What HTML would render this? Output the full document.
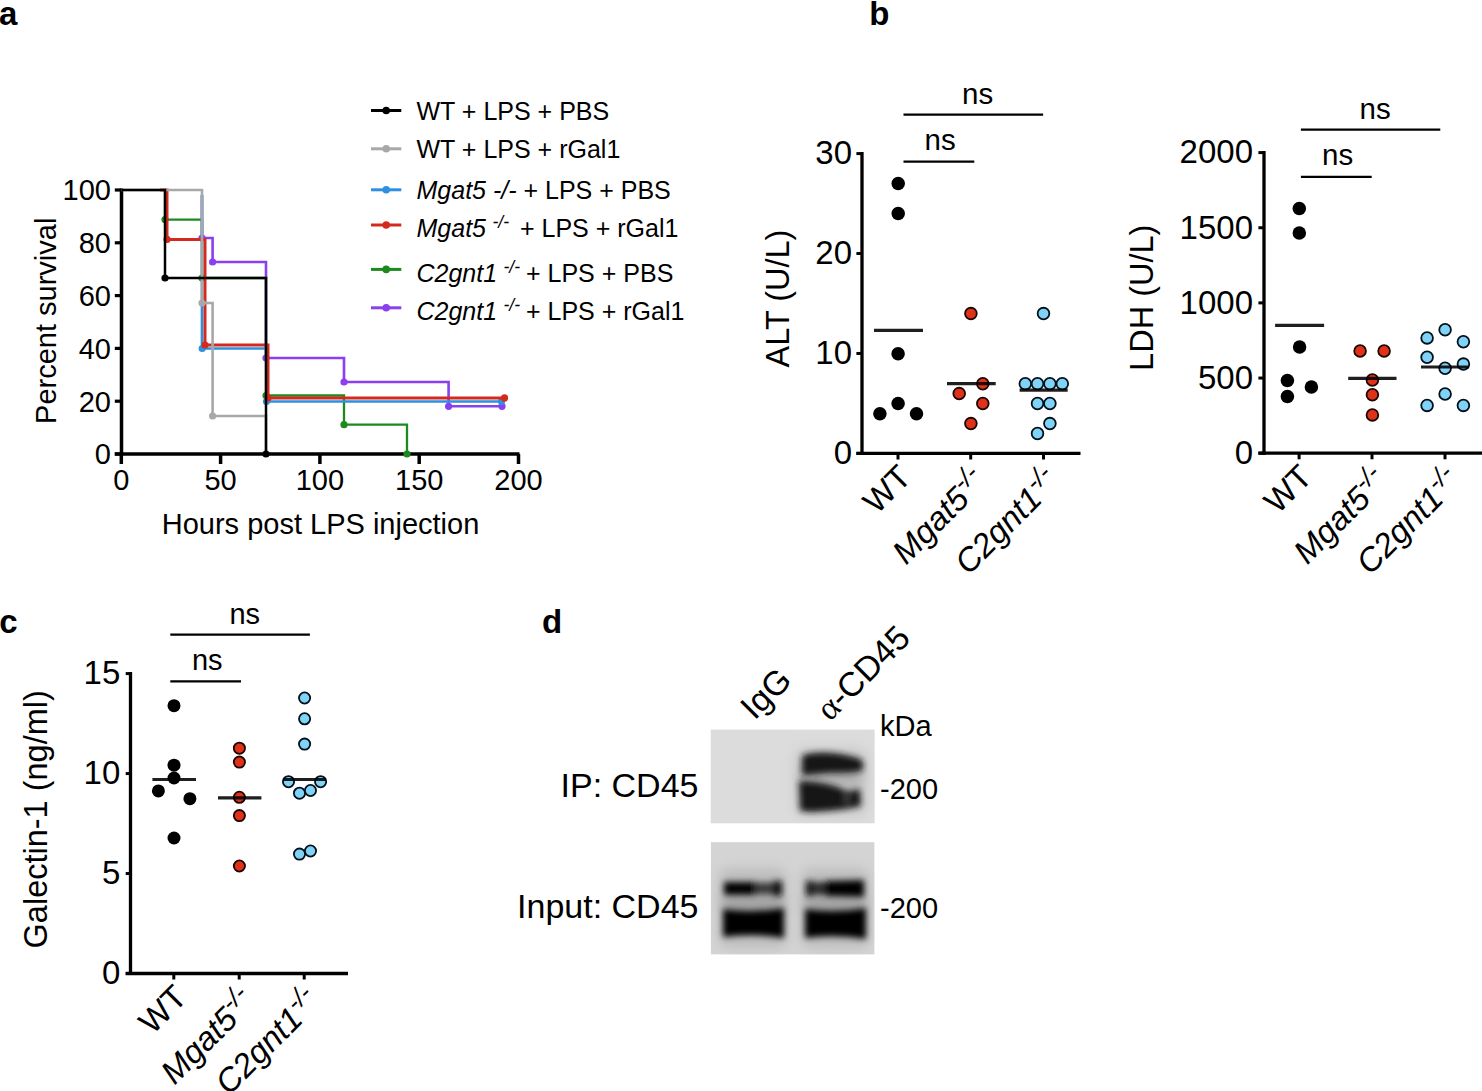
<!DOCTYPE html>
<html><head><meta charset="utf-8"><style>
html,body{margin:0;padding:0;background:#fff;}
body{width:1482px;height:1091px;overflow:hidden;}
svg{display:block;}
text{font-family:"Liberation Sans",sans-serif;fill:#000;}
</style></head><body>
<svg width="1482" height="1091" viewBox="0 0 1482 1091">
<rect width="1482" height="1091" fill="#fff"/>
<text x="-1" y="24.5" font-size="33" text-anchor="start" font-weight="bold">a</text>
<text x="869.3" y="24.5" font-size="33" text-anchor="start" font-weight="bold">b</text>
<text x="-0.8" y="633.4" font-size="33" text-anchor="start" font-weight="bold">c</text>
<text x="542" y="633" font-size="33" text-anchor="start" font-weight="bold">d</text>
<line x1="121.5" y1="188.5" x2="121.5" y2="455.8" stroke="#000" stroke-width="3.5" stroke-linecap="butt"/>
<line x1="114.8" y1="190.0" x2="121.5" y2="190.0" stroke="#000" stroke-width="3.2" stroke-linecap="butt"/>
<line x1="114.8" y1="242.8" x2="121.5" y2="242.8" stroke="#000" stroke-width="3.2" stroke-linecap="butt"/>
<line x1="114.8" y1="295.6" x2="121.5" y2="295.6" stroke="#000" stroke-width="3.2" stroke-linecap="butt"/>
<line x1="114.8" y1="348.4" x2="121.5" y2="348.4" stroke="#000" stroke-width="3.2" stroke-linecap="butt"/>
<line x1="114.8" y1="401.2" x2="121.5" y2="401.2" stroke="#000" stroke-width="3.2" stroke-linecap="butt"/>
<line x1="114.8" y1="454.0" x2="121.5" y2="454.0" stroke="#000" stroke-width="3.2" stroke-linecap="butt"/>
<line x1="114.8" y1="454" x2="519.5" y2="454" stroke="#000" stroke-width="3.6" stroke-linecap="butt"/>
<line x1="121.3" y1="454" x2="121.3" y2="464" stroke="#000" stroke-width="3.5" stroke-linecap="butt"/>
<line x1="220.6" y1="454" x2="220.6" y2="464" stroke="#000" stroke-width="3.5" stroke-linecap="butt"/>
<line x1="319.9" y1="454" x2="319.9" y2="464" stroke="#000" stroke-width="3.5" stroke-linecap="butt"/>
<line x1="419.2" y1="454" x2="419.2" y2="464" stroke="#000" stroke-width="3.5" stroke-linecap="butt"/>
<line x1="518.5" y1="454" x2="518.5" y2="464" stroke="#000" stroke-width="3.5" stroke-linecap="butt"/>
<path d="M202,195 L202,238 L212.6,238 L212.6,262 L266,262 L266,358 L344,358 L344,382 L448.6,382 L448.6,406.3 L502,406.3" fill="none" stroke="#8b3ff0" stroke-width="2.6" stroke-linejoin="miter"/>
<circle cx="202" cy="238" r="3.6" fill="#8b3ff0"/>
<circle cx="212.6" cy="262" r="3.6" fill="#8b3ff0"/>
<circle cx="266" cy="358" r="3.6" fill="#8b3ff0"/>
<circle cx="344" cy="382" r="3.6" fill="#8b3ff0"/>
<circle cx="448.6" cy="406.3" r="3.6" fill="#8b3ff0"/>
<circle cx="502" cy="406.3" r="3.6" fill="#8b3ff0"/>
<path d="M165,190 L165,219.6 L202,219.6 L202,278 L266,278 L266,395.5 L344,395.5 L344,424.7 L407,424.7 L407,454" fill="none" stroke="#1c8a1c" stroke-width="2.3" stroke-linejoin="miter"/>
<circle cx="165" cy="219.6" r="3.6" fill="#1c8a1c"/>
<circle cx="202" cy="278" r="3.6" fill="#1c8a1c"/>
<circle cx="266" cy="395.5" r="3.6" fill="#1c8a1c"/>
<circle cx="344" cy="424.7" r="3.6" fill="#1c8a1c"/>
<circle cx="407" cy="454" r="3.6" fill="#1c8a1c"/>
<path d="M202,195 L202,348.5 L267,348.5 L267,401.5 L501.5,401.5" fill="none" stroke="#2f90e0" stroke-width="2.7" stroke-linejoin="miter"/>
<circle cx="202.2" cy="348.5" r="3.6" fill="#2f90e0"/>
<circle cx="266.5" cy="401.5" r="3.6" fill="#2f90e0"/>
<circle cx="501.5" cy="401.5" r="3.6" fill="#2f90e0"/>
<path d="M160,190 L167,190 L167,239.4 L205,239.4 L205,345 L268,345 L268,397.9 L504.5,397.9" fill="none" stroke="#d42a1e" stroke-width="3.0" stroke-linejoin="miter"/>
<circle cx="167" cy="239.4" r="3.6" fill="#d42a1e"/>
<circle cx="205" cy="345" r="3.6" fill="#d42a1e"/>
<circle cx="268" cy="397.9" r="3.6" fill="#d42a1e"/>
<circle cx="504.5" cy="397.9" r="3.6" fill="#d42a1e"/>
<path d="M121.5,190 L202,190 L202,303 L212.6,303 L212.6,416 L266,416 L266,454" fill="none" stroke="#a8a8a8" stroke-width="2.6" stroke-linejoin="miter"/>
<circle cx="202" cy="303" r="3.6" fill="#a8a8a8"/>
<circle cx="212.6" cy="416" r="3.6" fill="#a8a8a8"/>
<path d="M121.5,190 L165,190 L165,278 L266,278 L266,454" fill="none" stroke="#000" stroke-width="2.5" stroke-linejoin="miter"/>
<circle cx="165" cy="278" r="3.6" fill="#000"/>
<circle cx="266" cy="454" r="3.6" fill="#000"/>
<text x="111" y="200.3" font-size="29" text-anchor="end" >100</text>
<text x="111" y="253.10000000000002" font-size="29" text-anchor="end" >80</text>
<text x="111" y="305.90000000000003" font-size="29" text-anchor="end" >60</text>
<text x="111" y="358.7" font-size="29" text-anchor="end" >40</text>
<text x="111" y="411.5" font-size="29" text-anchor="end" >20</text>
<text x="111" y="464.3" font-size="29" text-anchor="end" >0</text>
<text x="121.3" y="490" font-size="29" text-anchor="middle" >0</text>
<text x="220.6" y="490" font-size="29" text-anchor="middle" >50</text>
<text x="319.9" y="490" font-size="29" text-anchor="middle" >100</text>
<text x="419.2" y="490" font-size="29" text-anchor="middle" >150</text>
<text x="518.5" y="490" font-size="29" text-anchor="middle" >200</text>
<text x="320.5" y="533.5" font-size="29" text-anchor="middle" >Hours post LPS injection</text>
<text transform="translate(55.6,320.8) rotate(-90)" font-size="29" text-anchor="middle">Percent survival</text>
<line x1="371" y1="110.5" x2="401.3" y2="110.5" stroke="#000" stroke-width="3" stroke-linecap="butt"/>
<circle cx="386.2" cy="110.5" r="3.8" fill="#000"/>
<line x1="371" y1="148.8" x2="401.3" y2="148.8" stroke="#a8a8a8" stroke-width="3" stroke-linecap="butt"/>
<circle cx="386.2" cy="148.8" r="3.8" fill="#a8a8a8"/>
<line x1="371" y1="189.8" x2="401.3" y2="189.8" stroke="#2f90e0" stroke-width="3" stroke-linecap="butt"/>
<circle cx="386.2" cy="189.8" r="3.8" fill="#2f90e0"/>
<line x1="371" y1="225" x2="401.3" y2="225" stroke="#d42a1e" stroke-width="3" stroke-linecap="butt"/>
<circle cx="386.2" cy="225" r="3.8" fill="#d42a1e"/>
<line x1="371" y1="269.4" x2="401.3" y2="269.4" stroke="#1c8a1c" stroke-width="3" stroke-linecap="butt"/>
<circle cx="386.2" cy="269.4" r="3.8" fill="#1c8a1c"/>
<line x1="371" y1="307.8" x2="401.3" y2="307.8" stroke="#8b3ff0" stroke-width="3" stroke-linecap="butt"/>
<circle cx="386.2" cy="307.8" r="3.8" fill="#8b3ff0"/>
<text x="416.5" y="119.7" font-size="25">WT + LPS + PBS</text>
<text x="416.5" y="158.2" font-size="25">WT + LPS + rGal1</text>
<text x="416.5" y="199.3" font-size="25"><tspan font-style="italic">Mgat5 -/-</tspan> + LPS + PBS</text>
<text x="416.5" y="237.4" font-size="25"><tspan font-style="italic">Mgat5</tspan></text>
<text x="492.5" y="228.4" font-size="17.5" font-style="italic">-/-</text>
<text x="520" y="237.4" font-size="25">+ LPS + rGal1</text>
<text x="416.5" y="282.2" font-size="25"><tspan font-style="italic">C2gnt1</tspan></text>
<text x="503.5" y="273.2" font-size="17.5" font-style="italic">-/-</text>
<text x="526" y="282.2" font-size="25">+ LPS + PBS</text>
<text x="416.5" y="320.3" font-size="25"><tspan font-style="italic">C2gnt1</tspan></text>
<text x="503.5" y="311.3" font-size="17.5" font-style="italic">-/-</text>
<text x="526" y="320.3" font-size="25">+ LPS + rGal1</text>
<line x1="862" y1="152" x2="862" y2="455" stroke="#000" stroke-width="3.3" stroke-linecap="butt"/>
<line x1="856.4" y1="153.6" x2="862" y2="153.6" stroke="#000" stroke-width="3" stroke-linecap="butt"/>
<text x="852" y="164.4" font-size="33" text-anchor="end" >30</text>
<line x1="856.4" y1="253.53" x2="862" y2="253.53" stroke="#000" stroke-width="3" stroke-linecap="butt"/>
<text x="852" y="264.33" font-size="33" text-anchor="end" >20</text>
<line x1="856.4" y1="353.46000000000004" x2="862" y2="353.46000000000004" stroke="#000" stroke-width="3" stroke-linecap="butt"/>
<text x="852" y="364.26000000000005" font-size="33" text-anchor="end" >10</text>
<line x1="856.4" y1="453.39" x2="862" y2="453.39" stroke="#000" stroke-width="3" stroke-linecap="butt"/>
<text x="852" y="464.19" font-size="33" text-anchor="end" >0</text>
<line x1="856.4" y1="453.4" x2="1080.5" y2="453.4" stroke="#000" stroke-width="3.3" stroke-linecap="butt"/>
<line x1="898" y1="453.4" x2="898" y2="459.5" stroke="#000" stroke-width="3" stroke-linecap="butt"/>
<line x1="970.7" y1="453.4" x2="970.7" y2="459.5" stroke="#000" stroke-width="3" stroke-linecap="butt"/>
<line x1="1043.5" y1="453.4" x2="1043.5" y2="459.5" stroke="#000" stroke-width="3" stroke-linecap="butt"/>
<text transform="translate(788.6,298.5) rotate(-90)" font-size="32.5" text-anchor="middle">ALT (U/L)</text>
<circle cx="898.2" cy="183.6" r="6.75" fill="#000"/>
<circle cx="898.2" cy="213.6" r="6.75" fill="#000"/>
<circle cx="898.1" cy="353.7" r="6.75" fill="#000"/>
<circle cx="898.1" cy="403.6" r="6.75" fill="#000"/>
<circle cx="879.9" cy="413.7" r="6.75" fill="#000"/>
<circle cx="916.5" cy="413.7" r="6.75" fill="#000"/>
<circle cx="970.9" cy="313.6" r="5.85" fill="#e0321a" stroke="#1a0500" stroke-width="1.8"/>
<circle cx="982.8" cy="383.7" r="5.85" fill="#e0321a" stroke="#1a0500" stroke-width="1.8"/>
<circle cx="959.2" cy="393.6" r="5.85" fill="#e0321a" stroke="#1a0500" stroke-width="1.8"/>
<circle cx="982.8" cy="403.5" r="5.85" fill="#e0321a" stroke="#1a0500" stroke-width="1.8"/>
<circle cx="970.9" cy="423.6" r="5.85" fill="#e0321a" stroke="#1a0500" stroke-width="1.8"/>
<circle cx="1043.5" cy="313.6" r="5.85" fill="#80d2f6" stroke="#001018" stroke-width="1.8"/>
<circle cx="1025.3" cy="383.7" r="5.85" fill="#80d2f6" stroke="#001018" stroke-width="1.8"/>
<circle cx="1037.5" cy="383.7" r="5.85" fill="#80d2f6" stroke="#001018" stroke-width="1.8"/>
<circle cx="1049.9" cy="383.7" r="5.85" fill="#80d2f6" stroke="#001018" stroke-width="1.8"/>
<circle cx="1062.3" cy="383.7" r="5.85" fill="#80d2f6" stroke="#001018" stroke-width="1.8"/>
<circle cx="1037.5" cy="403.5" r="5.85" fill="#80d2f6" stroke="#001018" stroke-width="1.8"/>
<circle cx="1049.9" cy="403.5" r="5.85" fill="#80d2f6" stroke="#001018" stroke-width="1.8"/>
<circle cx="1049.9" cy="423.6" r="5.85" fill="#80d2f6" stroke="#001018" stroke-width="1.8"/>
<circle cx="1037.5" cy="433.5" r="5.85" fill="#80d2f6" stroke="#001018" stroke-width="1.8"/>
<line x1="874" y1="330.4" x2="923" y2="330.4" stroke="#000" stroke-width="3.2" stroke-opacity="0.88"/>
<line x1="947" y1="383.7" x2="995.7" y2="383.7" stroke="#000" stroke-width="3.2" stroke-opacity="0.88"/>
<line x1="1019.6" y1="390.1" x2="1067.7" y2="390.1" stroke="#000" stroke-width="3.2" stroke-opacity="0.88"/>
<line x1="903.5" y1="114.7" x2="1043.1" y2="114.7" stroke="#000" stroke-width="2.2" stroke-linecap="butt"/>
<line x1="903.5" y1="161.7" x2="974.3" y2="161.7" stroke="#000" stroke-width="2.2" stroke-linecap="butt"/>
<text x="977.7" y="104.2" font-size="29.5" text-anchor="middle" >ns</text>
<text x="940.1" y="150.3" font-size="29.5" text-anchor="middle" >ns</text>
<text transform="translate(913,479.0) rotate(-45)" font-size="33" text-anchor="end">WT</text>
<text transform="translate(988.3000000000001,483.4) rotate(-45)" font-size="33" text-anchor="end" font-style="italic">Mgat5<tspan font-size="26.1" dy="-12">-/-</tspan></text>
<text transform="translate(1061.1,483.4) rotate(-45)" font-size="33" text-anchor="end" font-style="italic">C2gnt1<tspan font-size="26.1" dy="-12">-/-</tspan></text>
<line x1="1264" y1="151" x2="1264" y2="455" stroke="#000" stroke-width="3.3" stroke-linecap="butt"/>
<line x1="1258.4" y1="152.6" x2="1264" y2="152.6" stroke="#000" stroke-width="3" stroke-linecap="butt"/>
<text x="1253" y="163.4" font-size="33" text-anchor="end" >2000</text>
<line x1="1258.4" y1="227.75" x2="1264" y2="227.75" stroke="#000" stroke-width="3" stroke-linecap="butt"/>
<text x="1253" y="238.55" font-size="33" text-anchor="end" >1500</text>
<line x1="1258.4" y1="302.9" x2="1264" y2="302.9" stroke="#000" stroke-width="3" stroke-linecap="butt"/>
<text x="1253" y="313.7" font-size="33" text-anchor="end" >1000</text>
<line x1="1258.4" y1="378.05" x2="1264" y2="378.05" stroke="#000" stroke-width="3" stroke-linecap="butt"/>
<text x="1253" y="388.85" font-size="33" text-anchor="end" >500</text>
<line x1="1258.4" y1="453.20000000000005" x2="1264" y2="453.20000000000005" stroke="#000" stroke-width="3" stroke-linecap="butt"/>
<text x="1253" y="464.00000000000006" font-size="33" text-anchor="end" >0</text>
<line x1="1258.4" y1="453.2" x2="1482" y2="453.2" stroke="#000" stroke-width="3.3" stroke-linecap="butt"/>
<line x1="1299.1" y1="453.2" x2="1299.1" y2="459.3" stroke="#000" stroke-width="3" stroke-linecap="butt"/>
<line x1="1372" y1="453.2" x2="1372" y2="459.3" stroke="#000" stroke-width="3" stroke-linecap="butt"/>
<line x1="1445" y1="453.2" x2="1445" y2="459.3" stroke="#000" stroke-width="3" stroke-linecap="butt"/>
<text transform="translate(1153,297.75) rotate(-90)" font-size="32.5" text-anchor="middle">LDH (U/L)</text>
<circle cx="1299.3" cy="208.4" r="6.75" fill="#000"/>
<circle cx="1299.3" cy="233.1" r="6.75" fill="#000"/>
<circle cx="1299.6" cy="346.9" r="6.75" fill="#000"/>
<circle cx="1287.4" cy="380.5" r="6.75" fill="#000"/>
<circle cx="1311.4" cy="386.9" r="6.75" fill="#000"/>
<circle cx="1287.4" cy="396.4" r="6.75" fill="#000"/>
<circle cx="1360.1" cy="351" r="5.85" fill="#e0321a" stroke="#1a0500" stroke-width="1.8"/>
<circle cx="1384.1" cy="351" r="5.85" fill="#e0321a" stroke="#1a0500" stroke-width="1.8"/>
<circle cx="1372.4" cy="380" r="5.85" fill="#e0321a" stroke="#1a0500" stroke-width="1.8"/>
<circle cx="1372.4" cy="394.8" r="5.85" fill="#e0321a" stroke="#1a0500" stroke-width="1.8"/>
<circle cx="1372.4" cy="414.9" r="5.85" fill="#e0321a" stroke="#1a0500" stroke-width="1.8"/>
<circle cx="1445.1" cy="329.7" r="5.85" fill="#80d2f6" stroke="#001018" stroke-width="1.8"/>
<circle cx="1427.1" cy="337.9" r="5.85" fill="#80d2f6" stroke="#001018" stroke-width="1.8"/>
<circle cx="1463.4" cy="341.7" r="5.85" fill="#80d2f6" stroke="#001018" stroke-width="1.8"/>
<circle cx="1427.1" cy="357.2" r="5.85" fill="#80d2f6" stroke="#001018" stroke-width="1.8"/>
<circle cx="1463.4" cy="364.1" r="5.85" fill="#80d2f6" stroke="#001018" stroke-width="1.8"/>
<circle cx="1445.1" cy="368.3" r="5.85" fill="#80d2f6" stroke="#001018" stroke-width="1.8"/>
<circle cx="1445.1" cy="394" r="5.85" fill="#80d2f6" stroke="#001018" stroke-width="1.8"/>
<circle cx="1427.1" cy="405.4" r="5.85" fill="#80d2f6" stroke="#001018" stroke-width="1.8"/>
<circle cx="1463.4" cy="405.4" r="5.85" fill="#80d2f6" stroke="#001018" stroke-width="1.8"/>
<line x1="1275.1" y1="325.3" x2="1324.1" y2="325.3" stroke="#000" stroke-width="3.2" stroke-opacity="0.88"/>
<line x1="1348.2" y1="378.4" x2="1396.5" y2="378.4" stroke="#000" stroke-width="3.2" stroke-opacity="0.88"/>
<line x1="1421" y1="367" x2="1468.8" y2="367" stroke="#000" stroke-width="3.2" stroke-opacity="0.88"/>
<line x1="1300.9" y1="129.7" x2="1440.3" y2="129.7" stroke="#000" stroke-width="2.2" stroke-linecap="butt"/>
<line x1="1300.9" y1="176.8" x2="1371.7" y2="176.8" stroke="#000" stroke-width="2.2" stroke-linecap="butt"/>
<text x="1375.1" y="119.2" font-size="29.5" text-anchor="middle" >ns</text>
<text x="1337.6" y="165.3" font-size="29.5" text-anchor="middle" >ns</text>
<text transform="translate(1314.1,478.8) rotate(-45)" font-size="33" text-anchor="end">WT</text>
<text transform="translate(1389.6,483.2) rotate(-45)" font-size="33" text-anchor="end" font-style="italic">Mgat5<tspan font-size="26.1" dy="-12">-/-</tspan></text>
<text transform="translate(1462.6,483.2) rotate(-45)" font-size="33" text-anchor="end" font-style="italic">C2gnt1<tspan font-size="26.1" dy="-12">-/-</tspan></text>
<line x1="130.5" y1="672" x2="130.5" y2="975" stroke="#000" stroke-width="3.3" stroke-linecap="butt"/>
<line x1="125.7" y1="673.6" x2="130.5" y2="673.6" stroke="#000" stroke-width="3" stroke-linecap="butt"/>
<text x="120.3" y="684.4" font-size="33" text-anchor="end" >15</text>
<line x1="125.7" y1="773.57" x2="130.5" y2="773.57" stroke="#000" stroke-width="3" stroke-linecap="butt"/>
<text x="120.3" y="784.37" font-size="33" text-anchor="end" >10</text>
<line x1="125.7" y1="873.54" x2="130.5" y2="873.54" stroke="#000" stroke-width="3" stroke-linecap="butt"/>
<text x="120.3" y="884.3399999999999" font-size="33" text-anchor="end" >5</text>
<line x1="125.7" y1="973.51" x2="130.5" y2="973.51" stroke="#000" stroke-width="3" stroke-linecap="butt"/>
<text x="120.3" y="984.31" font-size="33" text-anchor="end" >0</text>
<line x1="125.7" y1="973.5" x2="348" y2="973.5" stroke="#000" stroke-width="3.3" stroke-linecap="butt"/>
<line x1="173.8" y1="973.5" x2="173.8" y2="979.5" stroke="#000" stroke-width="3" stroke-linecap="butt"/>
<line x1="239.2" y1="973.5" x2="239.2" y2="979.5" stroke="#000" stroke-width="3" stroke-linecap="butt"/>
<line x1="304.2" y1="973.5" x2="304.2" y2="979.5" stroke="#000" stroke-width="3" stroke-linecap="butt"/>
<text transform="translate(46.6,819.3) rotate(-90)" font-size="32.5" text-anchor="middle">Galectin-1 (ng/ml)</text>
<circle cx="174" cy="705.7" r="6.5" fill="#000"/>
<circle cx="174" cy="765.2" r="6.5" fill="#000"/>
<circle cx="174" cy="778" r="6.5" fill="#000"/>
<circle cx="158.4" cy="790.9" r="6.5" fill="#000"/>
<circle cx="189.9" cy="798.7" r="6.5" fill="#000"/>
<circle cx="174" cy="838" r="6.5" fill="#000"/>
<circle cx="239.4" cy="748.2" r="5.6" fill="#e0321a" stroke="#1a0500" stroke-width="1.8"/>
<circle cx="239.4" cy="762.1" r="5.6" fill="#e0321a" stroke="#1a0500" stroke-width="1.8"/>
<circle cx="239.4" cy="797.3" r="5.6" fill="#e0321a" stroke="#1a0500" stroke-width="1.8"/>
<circle cx="239.4" cy="815.6" r="5.6" fill="#e0321a" stroke="#1a0500" stroke-width="1.8"/>
<circle cx="239.4" cy="866" r="5.6" fill="#e0321a" stroke="#1a0500" stroke-width="1.8"/>
<circle cx="304.6" cy="698" r="5.6" fill="#80d2f6" stroke="#001018" stroke-width="1.8"/>
<circle cx="304.6" cy="718.8" r="5.6" fill="#80d2f6" stroke="#001018" stroke-width="1.8"/>
<circle cx="304.6" cy="744.1" r="5.6" fill="#80d2f6" stroke="#001018" stroke-width="1.8"/>
<circle cx="288.5" cy="781.7" r="5.6" fill="#80d2f6" stroke="#001018" stroke-width="1.8"/>
<circle cx="320.6" cy="781.7" r="5.6" fill="#80d2f6" stroke="#001018" stroke-width="1.8"/>
<circle cx="299.5" cy="793.2" r="5.6" fill="#80d2f6" stroke="#001018" stroke-width="1.8"/>
<circle cx="310.5" cy="790.5" r="5.6" fill="#80d2f6" stroke="#001018" stroke-width="1.8"/>
<circle cx="299.5" cy="854.1" r="5.6" fill="#80d2f6" stroke="#001018" stroke-width="1.8"/>
<circle cx="310.5" cy="851" r="5.6" fill="#80d2f6" stroke="#001018" stroke-width="1.8"/>
<line x1="152.4" y1="779.5" x2="196" y2="779.5" stroke="#000" stroke-width="3.2" stroke-opacity="0.88"/>
<line x1="218" y1="797.8" x2="261.4" y2="797.8" stroke="#000" stroke-width="3.2" stroke-opacity="0.88"/>
<line x1="283" y1="779.5" x2="326.1" y2="779.5" stroke="#000" stroke-width="3.2" stroke-opacity="0.88"/>
<line x1="170.3" y1="634.7" x2="309.9" y2="634.7" stroke="#000" stroke-width="2.2" stroke-linecap="butt"/>
<line x1="170.3" y1="681.4" x2="241" y2="681.4" stroke="#000" stroke-width="2.2" stroke-linecap="butt"/>
<text x="244.7" y="623.6" font-size="29" text-anchor="middle" >ns</text>
<text x="207.2" y="669.5" font-size="29" text-anchor="middle" >ns</text>
<text transform="translate(188.8,999.1) rotate(-45)" font-size="33" text-anchor="end">WT</text>
<text transform="translate(256.8,1003.5) rotate(-45)" font-size="33" text-anchor="end" font-style="italic">Mgat5<tspan font-size="26.1" dy="-12">-/-</tspan></text>
<text transform="translate(321.8,1003.5) rotate(-45)" font-size="33" text-anchor="end" font-style="italic">C2gnt1<tspan font-size="26.1" dy="-12">-/-</tspan></text>
<defs><filter id="bl" x="-20%" y="-50%" width="140%" height="200%"><feGaussianBlur stdDeviation="3.2"/></filter><filter id="bl3" x="-50%" y="-50%" width="200%" height="200%"><feGaussianBlur stdDeviation="6"/></filter><filter id="bl2" x="-20%" y="-50%" width="140%" height="200%"><feGaussianBlur stdDeviation="4"/></filter><clipPath id="c1"><rect x="710.7" y="729.6" width="163.9" height="93.7"/></clipPath><clipPath id="c2"><rect x="710.9" y="842.2" width="163.5" height="112.2"/></clipPath></defs>
<rect x="710.7" y="729.6" width="163.9" height="93.7" fill="#dcdcdc"/>
<g clip-path="url(#c1)">
<g filter="url(#bl3)"><rect x="795" y="748" width="72" height="68" rx="10" fill="#c9c9c9"/><rect x="800" y="770" width="62" height="14" fill="#a8a8a8"/></g>
<g filter="url(#bl)">
<path d="M802,756 C812,751 835,752 850,756 C858,758 862,759 863,762 L863,770 C858,773 845,773 830,773 C818,774 808,775 802,775 Z" fill="#161616"/>
<path d="M799,781 C815,781 832,784 845,790 L850,791 L860,789 L861,806 C850,809 830,811 812,812 L800,811 Z" fill="#141414"/>
<rect x="844" y="790" width="6" height="14" fill="#3a3a3a"/>
</g></g>
<rect x="710.9" y="842.2" width="163.5" height="112.2" fill="#d4d4d4"/>
<g clip-path="url(#c2)"><g filter="url(#bl3)"><rect x="719" y="868" width="68" height="80" rx="10" fill="#bdbdbd"/><rect x="801" y="868" width="68" height="80" rx="10" fill="#bdbdbd"/><rect x="722" y="897" width="62" height="13" fill="#9c9c9c"/><rect x="804" y="897" width="62" height="13" fill="#9c9c9c"/></g>
<g filter="url(#bl)">
<path d="M724,882 L756,882 L756,895 L724,895 Z" fill="#050505"/>
<path d="M755,882.5 L774,882.5 L774,894.5 L755,894.5 Z" fill="#3a3a3a"/>
<path d="M773,881 L782,881 L782,896 L773,896 Z" fill="#080808"/>
<path d="M806,881 L813,881 L813,896 L806,896 Z" fill="#080808"/>
<path d="M812,882 L826,882 L826,895 L812,895 Z" fill="#2e2e2e"/>
<path d="M825,881 L864,880 L864,897 L825,896 Z" fill="#050505"/>
<path d="M723,909 Q752,913 784,908 L784,938 Q752,933 723,937 Z" fill="#000"/>
<path d="M805,909 Q835,913 866,908 L866,939 Q835,934 805,938 Z" fill="#000"/>
</g></g>
<text x="698.5" y="796.7" font-size="34" text-anchor="end" >IP: CD45</text>
<text x="698.5" y="918.1" font-size="34" text-anchor="end" >Input: CD45</text>
<text x="880" y="735.7" font-size="29" text-anchor="start" >kDa</text>
<text x="880" y="799" font-size="29" text-anchor="start" >-200</text>
<text x="880" y="917.9" font-size="29" text-anchor="start" >-200</text>
<text transform="translate(754.6,720.9) rotate(-45)" font-size="34">IgG</text>
<text transform="translate(830,722) rotate(-45)" font-size="34"><tspan font-family="Liberation Serif, serif">α</tspan>-CD45</text>
</svg>
</body></html>
